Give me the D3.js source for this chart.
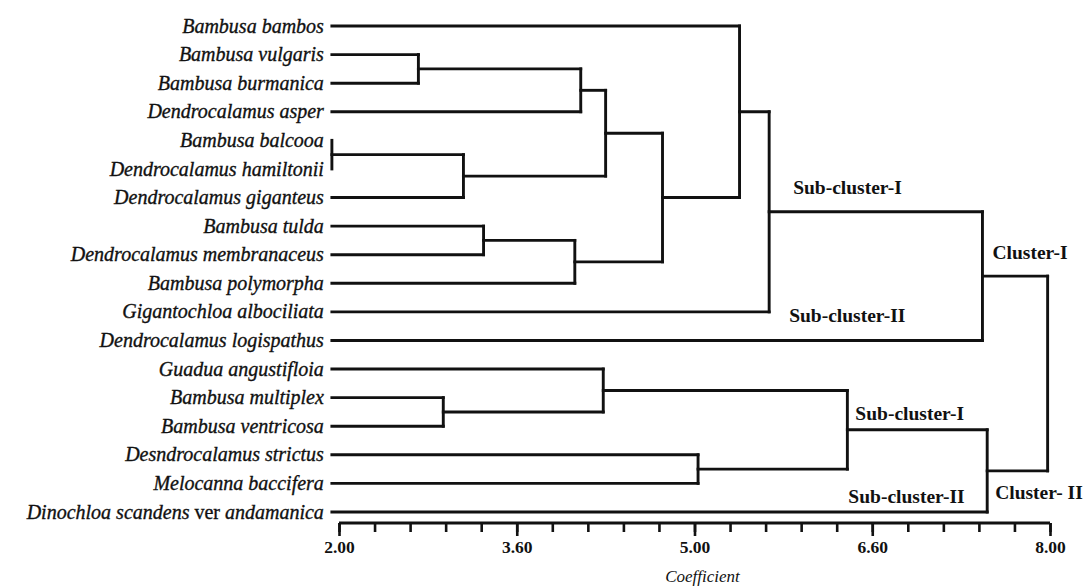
<!DOCTYPE html>
<html>
<head>
<meta charset="utf-8">
<script src="https://cdn.jsdelivr.net/npm/d3@7"></script>
<style>
  html, body { margin: 0; padding: 0; background: #fff; }
  svg { display: block; }
</style>
</head>
<body>
<svg id="chart" width="1088" height="587"></svg>
<script>
// ---- Data ----
const leaves = [
  "Bambusa bambos", "Bambusa vulgaris", "Bambusa burmanica", "Dendrocalamus asper",
  "Bambusa balcooa", "Dendrocalamus hamiltonii", "Dendrocalamus giganteus",
  "Bambusa tulda", "Dendrocalamus membranaceus", "Bambusa polymorpha",
  "Gigantochloa albociliata", "Dendrocalamus logispathus", "Guadua angustifloia",
  "Bambusa multiplex", "Bambusa ventricosa", "Desndrocalamus strictus",
  "Melocanna baccifera", "Dinochloa scandens ver andamanica"
];
// merges: [childA, childB, coefficient]; leaves are 0..17, merge k gets id 18+k
const mergeA = [4, 1, 13, 18, 7, 22, 19, 12, 24, 26, 15, 0, 29, 25, 30, 31, 32];
const mergeB = [5, 2, 14, 6, 8, 9, 3, 20, 21, 23, 16, 27, 10, 28, 11, 17, 33];
const mergeH = [1.94, 2.67, 2.88, 3.05, 3.22, 3.99, 4.04, 4.23, 4.25, 4.73, 5.03, 5.38, 5.63, 6.29, 7.43, 7.47, 7.98];
const leafBase = 1.94;
const majorTicks = [2, 3.5, 5, 6.5, 8];
const majorLabels = ["2.00", "3.60", "5.00", "6.60", "8.00"];
const minorTicks = d3.range(21).map(i => 2 + i * 0.3);
const axisTitle = "Coefficient";
const clusterLabels = ["Sub-cluster-I", "Sub-cluster-II", "Cluster-I", "Sub-cluster-I", "Sub-cluster-II", "Cluster- II"];

// ---- Scales ----
const svg = d3.select("#chart");
const x = d3.scaleLinear().domain([2, 8]).range([339, 1050]);
const y = d3.scalePoint().domain(d3.range(leaves.length)).range([26, 512]);

// ---- Node positions ----
const nodes = leaves.map((name, i) => ({ id: i, h: leafBase, y: y(i) }));
mergeA.forEach((a, k) => {
  const b = mergeB[k];
  nodes.push({ id: 18 + k, a, b, h: mergeH[k], y: (nodes[a].y + nodes[b].y) / 2 });
});

const ink = "#111";
const g = svg.append("g").attr("fill", "none").attr("stroke", ink).attr("stroke-width", 2.9)
  .attr("stroke-linecap", "square");

const segs = [];
nodes.forEach(n => {
  if (n.a === undefined) return;
  const A = nodes[n.a], B = nodes[n.b];
  segs.push([x(A.h), A.y, x(n.h), A.y]);
  segs.push([x(B.h), B.y, x(n.h), B.y]);
  segs.push([x(n.h), A.y, x(n.h), B.y]);
});
g.selectAll("line").data(segs.filter(s => !(s[0] === s[2] && s[1] === s[3]))).join("line")
  .attr("x1", d => d[0]).attr("y1", d => d[1]).attr("x2", d => d[2]).attr("y2", d => d[3]);

// ---- Leaf labels ----
const lab = svg.append("g")
  .attr("font-family", "'Liberation Serif', 'Times New Roman', serif")
  .attr("font-size", 20).attr("font-style", "italic").attr("fill", ink)
  .attr("stroke", ink).attr("stroke-width", 0.35)
  .attr("text-anchor", "end");
leaves.forEach((name, i) => {
  const t = lab.append("text").attr("x", x(leafBase) - 8).attr("y", y(i)).attr("dy", "0.33em");
  if (name.includes(" ver ")) {
    const parts = name.split(" ver ");
    t.append("tspan").text(parts[0] + " ");
    t.append("tspan").attr("font-style", "normal").text("ver");
    t.append("tspan").text(" " + parts[1]);
  } else {
    t.text(name);
  }
});

// ---- Axis ----
const axisY = 523;
const minorAxis = d3.axisBottom(x).tickValues(minorTicks).tickSize(9).tickSizeOuter(0).tickFormat("");
const majorAxis = d3.axisBottom(x).tickValues(majorTicks).tickSize(13).tickSizeOuter(0)
  .tickFormat((d, i) => majorLabels[i]).tickPadding(5);
const ga1 = svg.append("g").attr("transform", `translate(0,${axisY})`).call(minorAxis);
const ga2 = svg.append("g").attr("transform", `translate(0,${axisY})`).call(majorAxis);
[ga1, ga2].forEach(ga => {
  ga.selectAll("path, line").attr("stroke", ink).attr("stroke-width", 2.6);
});
ga1.select(".domain").attr("d", `M${x(2)},0H${x(8)}`).attr("stroke-width", 3);
ga2.select(".domain").remove();
ga2.selectAll("text").attr("fill", ink)
  .attr("font-family", "'Liberation Serif', 'Times New Roman', serif")
  .attr("font-size", 17.5).attr("font-weight", "bold");

svg.append("text").attr("x", x(5) + 8).attr("y", 582)
  .attr("text-anchor", "middle")
  .attr("font-family", "'Liberation Serif', 'Times New Roman', serif")
  .attr("font-size", 17).attr("font-style", "italic").attr("fill", ink)
  .text(axisTitle);

// ---- Cluster annotations ----
const N = id => nodes[id];
const ann = [
  [clusterLabels[0], x(N(30).h) + 24, N(30).y - 18],
  [clusterLabels[1], x(N(30).h) + 20, N(11).y - 18],
  [clusterLabels[2], x(N(32).h) + 10, N(32).y - 17],
  [clusterLabels[3], x(N(31).h) + 8, N(31).y - 10],
  [clusterLabels[4], x(N(31).h) + 1, N(17).y - 9],
  [clusterLabels[5], x(N(33).h) + 8, N(33).y + 28]
];
svg.append("g")
  .attr("font-family", "'Liberation Serif', 'Times New Roman', serif")
  .attr("font-size", 19.5).attr("font-weight", "bold").attr("fill", ink)
  .selectAll("text").data(ann).join("text")
  .attr("x", d => d[1]).attr("y", d => d[2]).text(d => d[0]);
</script>
</body>
</html>
